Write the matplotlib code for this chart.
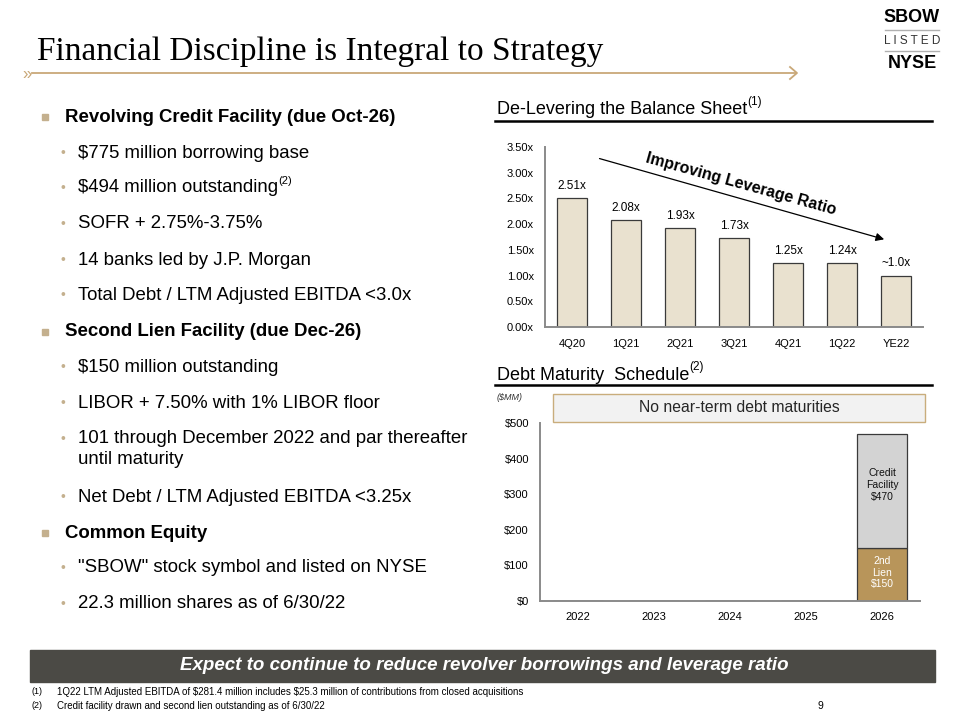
import matplotlib
matplotlib.use("Agg")
import matplotlib.pyplot as plt
from matplotlib.patches import Rectangle
from matplotlib.lines import Line2D

plt.rcParams['font.family'] = ['Liberation Sans', 'DejaVu Sans']

# Leverage chart data
quarters = ["4Q20", "1Q21", "2Q21", "3Q21", "4Q21", "1Q22", "YE22"]
leverage = [2.51, 2.08, 1.93, 1.73, 1.25, 1.24, 1.0]
leverage_labels = ["2.51x", "2.08x", "1.93x", "1.73x", "1.25x", "1.24x", "~1.0x"]
leverage_ticks = [0, 0.5, 1.0, 1.5, 2.0, 2.5, 3.0, 3.5]

# Debt maturity data
years = ["2022", "2023", "2024", "2025", "2026"]
second_lien = [0, 0, 0, 0, 150]
credit_facility = [0, 0, 0, 0, 320]
debt_ticks = [0, 100, 200, 300, 400, 500]

# Left column text
bullets = [
    (0, "Revolving Credit Facility (due Oct-26)", 117, None),
    (1, "$775 million borrowing base", 153, None),
    (1, "$494 million outstanding", 188, "(2)"),
    (1, "SOFR + 2.75%-3.75%", 224, None),
    (1, "14 banks led by J.P. Morgan", 260, None),
    (1, "Total Debt / LTM Adjusted EBITDA <3.0x", 295, None),
    (0, "Second Lien Facility (due Dec-26)", 332, None),
    (1, "$150 million outstanding", 367, None),
    (1, "LIBOR + 7.50% with 1% LIBOR floor", 403, None),
    (1, "101 through December 2022 and par thereafter\nuntil maturity", 439, None),
    (1, "Net Debt / LTM Adjusted EBITDA <3.25x", 497, None),
    (0, "Common Equity", 533, None),
    (1, "\"SBOW\" stock symbol and listed on NYSE", 568, None),
    (1, "22.3 million shares as of 6/30/22", 604, None),
]

W, H = 960, 720
TAN = "#c9a878"
fig = plt.figure(figsize=(9.6, 7.2), dpi=100)


def fx(x):
    return x / W


def fy(y):
    return 1 - y / H


def ftext(x, y, s, **kw):
    return fig.text(fx(x), fy(y), s, **kw)


# title and rule
ftext(37, 52, "Financial Discipline is Integral to Strategy", fontsize=24,
      family="Liberation Serif", va="center", ha="left")
fig.add_artist(Line2D([fx(32), fx(796)], [fy(73), fy(73)], color=TAN, lw=1.3))
ftext(22, 74, "»", fontsize=12, color=TAN, va="center", ha="left")
fig.add_artist(Line2D([fx(790), fx(797), fx(790)], [fy(67), fy(73), fy(79)], color=TAN, lw=1.3))

# logo
ftext(912, 17, "SBOW", fontsize=13, weight="bold", ha="center", va="center")
fig.add_artist(Line2D([fx(885), fx(939)], [fy(30), fy(30)], color="#b0b0b0", lw=1))
ftext(912, 41, "L I S T E D", fontsize=8.5, ha="center", va="center", color="#333333")
fig.add_artist(Line2D([fx(885), fx(939)], [fy(51), fy(51)], color="#b0b0b0", lw=1))
ftext(912, 63, "NYSE", fontsize=13, weight="bold", ha="center", va="center")

# chart axes (created first so superscripts can hang off them)
ax1 = fig.add_axes([fx(545), fy(327), (923 - 545) / W, (327 - 147) / H])
ax2 = fig.add_axes([fx(540), fy(601), (920 - 540) / W, (601 - 423) / H])

# bullets
for level, s, y, sup in bullets:
    if level == 0:
        fig.add_artist(Rectangle((fx(42), fy(y + 3)), 6 / W, 6 / H, color="#c4b08e"))
        t = ftext(65, y, s, fontsize=13.4, weight="bold", va="center", ha="left")
    else:
        ftext(63, y, "•", fontsize=10, color="#c4b08e", va="center", ha="center")
        if "\n" in s:
            t = ftext(78, y - 9, s, fontsize=13.4, va="top", ha="left", linespacing=1.3)
        else:
            t = ftext(78, y, s, fontsize=13.4, va="center", ha="left")
    if sup:
        ax1.annotate(sup, xy=(1, 0.9), xycoords=t, fontsize=8, va="center", ha="left",
                     annotation_clip=False)


def header(y_text, y_line, s, sup):
    t = ftext(497, y_text, s, fontsize=13, va="center", ha="left")
    ax1.annotate(sup, xy=(1, 0.95), xycoords=t, fontsize=8.5, va="center", ha="left",
                 annotation_clip=False)
    fig.add_artist(Line2D([fx(495), fx(932)], [fy(y_line), fy(y_line)], color="black", lw=1.8))


# ---- top chart
header(110, 121, "De-Levering the Balance Sheet", "(1)")
xs = range(len(quarters))
ax1.bar(xs, leverage, width=0.54, color="#e9e1cf", edgecolor="#3a3a3a", linewidth=0.9)
for x, v, lab in zip(xs, leverage, leverage_labels):
    ax1.text(x, v + 0.12, lab, ha="center", va="bottom", fontsize=8.5)
ax1.set_xlim(-0.5, len(quarters) - 0.5)
ax1.set_ylim(0, 3.5)
ax1.set_yticks(leverage_ticks)
ax1.set_yticklabels(["%.2fx" % v for v in leverage_ticks], fontsize=8)
ax1.set_xticks(list(xs))
ax1.set_xticklabels(quarters, fontsize=8)
ax1.tick_params(length=0, pad=8)
ax1.tick_params(axis="x", pad=9)
for sp in ["top", "right"]:
    ax1.spines[sp].set_visible(False)
for sp in ["left", "bottom"]:
    ax1.spines[sp].set_color("#8a8a8a")
    ax1.spines[sp].set_linewidth(1.4)
ax1.annotate("", xy=(5.83, 1.69), xytext=(0.46, 3.29),
             arrowprops=dict(arrowstyle="-|>", color="black", lw=0.9, mutation_scale=12))
ax1.text(3.13, 2.78, "Improving Leverage Ratio", fontsize=11.5, weight="bold",
         rotation=-15.5, rotation_mode="anchor", ha="center", va="center")

# ---- bottom chart
header(375, 385, "Debt Maturity  Schedule", "(2)")
ftext(497, 398, "($MM)", fontsize=6.5, style="italic", va="center", ha="left", color="#333333")
fig.add_artist(Rectangle((fx(553), fy(422)), (925 - 553) / W, 28 / H, facecolor="#f2f2f2",
                         edgecolor="#c9ad7c", lw=1))
ftext(739, 408, "No near-term debt maturities", fontsize=11.3, ha="center", va="center",
      color="#262626")
ys = range(len(years))
ax2.bar(ys, second_lien, width=0.66, color="#b8955a", edgecolor="#3a3a3a", linewidth=0.9)
ax2.bar(ys, credit_facility, bottom=second_lien, width=0.66, color="#d3d3d3",
        edgecolor="#3a3a3a", linewidth=0.9)
for x, a, b in zip(ys, second_lien, credit_facility):
    if a:
        ax2.text(x, a / 2 + 4, "2nd\nLien\n$%d" % a, ha="center", va="center", fontsize=7.5,
                 color="white", linespacing=1.2)
    if b:
        ax2.text(x, a + b * 0.55, "Credit\nFacility\n$%d" % (a + b), ha="center", va="center",
                 fontsize=7.5, color="#111111", linespacing=1.2)
ax2.set_xlim(-0.5, len(years) - 0.5)
ax2.set_ylim(0, 500)
ax2.set_yticks(debt_ticks)
ax2.set_yticklabels(["$%d" % v for v in debt_ticks], fontsize=8)
ax2.set_xticks(list(ys))
ax2.set_xticklabels(years, fontsize=8)
ax2.tick_params(length=0, pad=8)
for sp in ["top", "right"]:
    ax2.spines[sp].set_visible(False)
for sp in ["left", "bottom"]:
    ax2.spines[sp].set_color("#8a8a8a")
    ax2.spines[sp].set_linewidth(1.4)

# ---- banner + footnotes
fig.add_artist(Rectangle((fx(30), fy(682)), (935 - 30) / W, 32 / H, color="#4b4a45"))
ftext(484, 666, "Expect to continue to reduce revolver borrowings and leverage ratio",
      fontsize=13.5, weight="bold", style="italic", color="white", ha="center", va="center")
ftext(31, 692, "(1)", fontsize=6.5, va="center")
ftext(57, 692, "1Q22 LTM Adjusted EBITDA of \\$281.4 million includes \\$25.3 million of "
      "contributions from closed acquisitions", fontsize=7, va="center")
ftext(31, 706, "(2)", fontsize=6.5, va="center")
ftext(57, 706, "Credit facility drawn and second lien outstanding as of 6/30/22", fontsize=7,
      va="center")
ftext(820, 706, "9", fontsize=7.5, va="center", ha="center")

fig.savefig("out.png", dpi=100)
